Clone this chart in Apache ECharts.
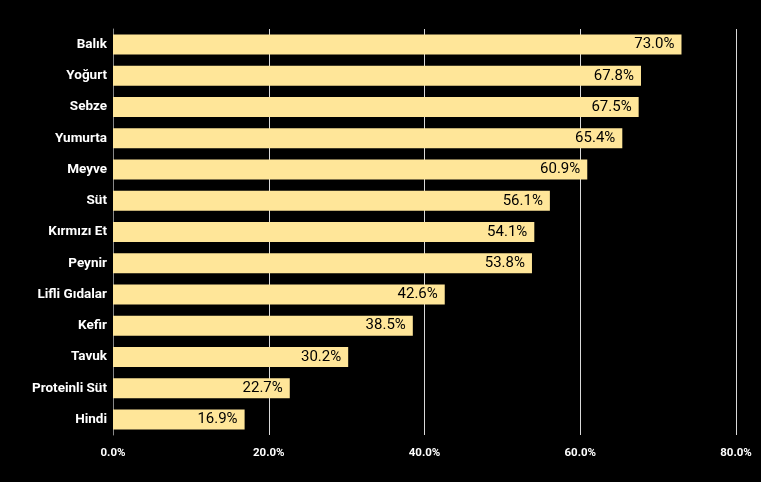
<!DOCTYPE html>
<html>
<head>
<meta charset="utf-8">
<script src="https://cdn.jsdelivr.net/npm/echarts@6/dist/echarts.min.js"></script>
<style>html,body{margin:0;padding:0;background:#000;}#c{width:761px;height:482px;}</style>
</head>
<body>
<div id="c"></div>
<script>
const categories = ["Balık","Yoğurt","Sebze","Yumurta","Meyve","Süt","Kırmızı Et","Peynir","Lifli Gıdalar","Kefir","Tavuk","Proteinli Süt","Hindi"];
const values = [73.0,67.8,67.5,65.4,60.9,56.1,54.1,53.8,42.6,38.5,30.2,22.7,16.9];
const xTicks = [0,20,40,60,80];

const chart = echarts.init(document.getElementById('c'));
chart.setOption({
  backgroundColor: '#000000',
  animation: false,
  grid: {left: 113, right: 25, top: 29, bottom: 47, containLabel: false},
  xAxis: {
    type: 'value', min: xTicks[0], max: xTicks[xTicks.length-1], interval: 20,
    axisLine: {show: false}, axisTick: {show: false},
    splitLine: {show: true, lineStyle: {color: '#d9d9d9', width: 1}},
    axisLabel: {color: '#ffffff', fontWeight: 'bold', fontSize: 11.5, fontFamily: 'Roboto', margin: 12,
      formatter: v => v.toFixed(1) + '%'}
  },
  yAxis: {
    type: 'category', data: categories, inverse: true,
    axisLine: {show: true, lineStyle: {color: '#888888'}}, axisTick: {show: false},
    axisLabel: {color: '#ffffff', fontWeight: 'bold', fontSize: 13.5, fontFamily: 'Roboto', margin: 6}
  },
  series: [{
    type: 'bar', data: values, barCategoryGap: '36%',
    itemStyle: {color: '#FFE699'},
    label: {show: true, position: 'insideRight', distance: 7, color: '#000000', fontSize: 15, fontFamily: 'Roboto',
      formatter: p => p.value.toFixed(1) + '%'}
  }]
});
</script>
</body>
</html>
